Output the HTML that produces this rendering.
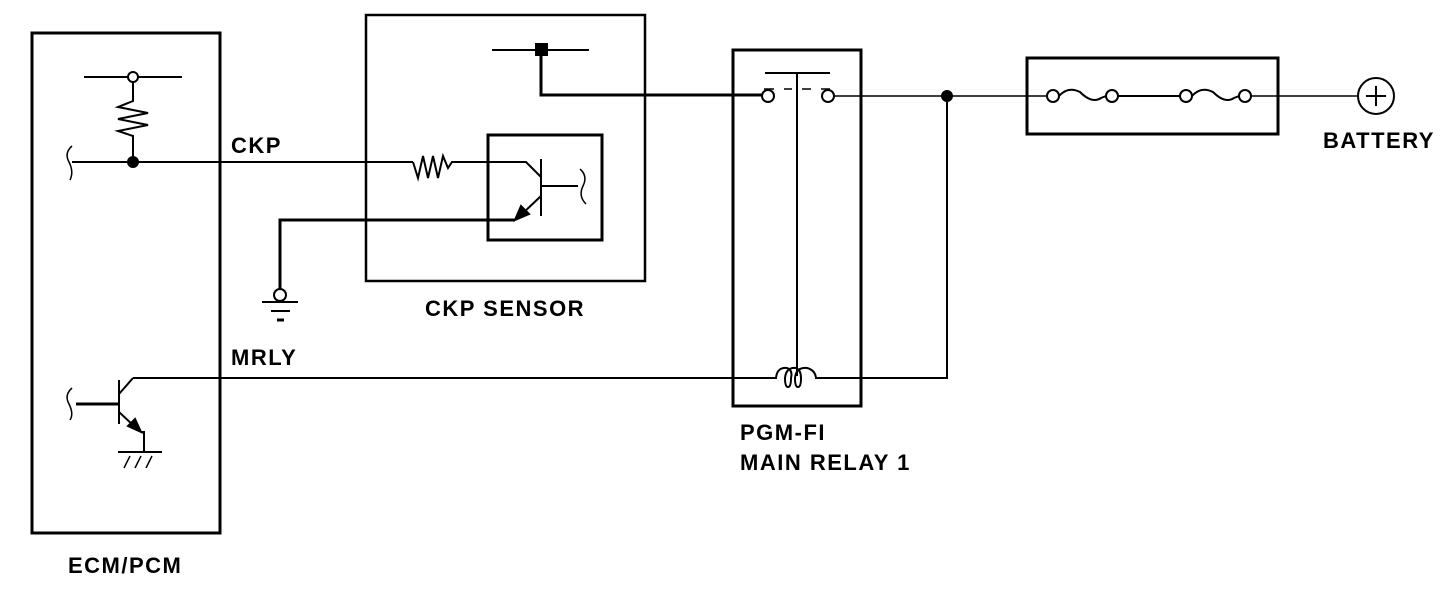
<!DOCTYPE html>
<html><head><style>
html,body{margin:0;padding:0;background:#fff;}
svg{display:block;}
text{font-family:"Liberation Sans",Arial,sans-serif;font-weight:bold;font-size:22px;letter-spacing:1.5px;fill:#000;}
</style></head><body>
<svg width="1456" height="596" viewBox="0 0 1456 596" xmlns="http://www.w3.org/2000/svg">
<g fill="none" stroke="#000" stroke-width="2">
<rect x="32" y="33" width="188" height="500" stroke-width="3"/>
<line x1="84" y1="77" x2="182" y2="77"/>
<circle cx="133" cy="77" r="5" fill="#fff"/>
<path d="M133 82 V101 L118 107 L148 113 L118 119 L148 125 L118 131 L133 136 V162" stroke-width="2"/>
<path d="M72 146 Q64 153 69 162 Q74 172 70 180" stroke-width="1.5"/>
<line x1="72" y1="162" x2="413" y2="162"/>
<circle cx="133" cy="162" r="5" fill="#000"/>
<path d="M413 162 L418 178 L423 156 L428 178 L433 156 L438 178 L443 156 L448 168 L452 162 H526 L541 177"/>
<rect x="366" y="15" width="279" height="266" stroke-width="2.5"/>
<rect x="488" y="135" width="114" height="105" stroke-width="3"/>
<line x1="541" y1="159" x2="541" y2="216"/>
<line x1="541" y1="186" x2="578" y2="186"/>
<path d="M580 169 Q588 176 583 186 Q578 196 586 204" stroke-width="1.5"/>
<line x1="541" y1="196" x2="522" y2="214"/>
<polygon points="515,220 521,206 529,214" fill="#000"/>
<path d="M515 220 H280 V289" stroke-width="3"/>
<circle cx="280" cy="295" r="6" fill="#fff"/>
<line x1="262" y1="302" x2="298" y2="302"/>
<line x1="271" y1="311" x2="290" y2="311"/>
<line x1="277" y1="320" x2="284" y2="320" stroke-width="3"/>
<line x1="492" y1="50" x2="589" y2="50"/>
<rect x="535" y="43" width="13" height="13" fill="#000" stroke="none"/>
<path d="M541 56 V95 H762" stroke-width="3"/>
<rect x="733" y="50" width="128" height="356" stroke-width="3"/>
<circle cx="768" cy="96" r="6" fill="#fff"/>
<circle cx="828" cy="96" r="6" fill="#fff"/>
<line x1="765" y1="73" x2="830" y2="73"/>
<line x1="797" y1="73" x2="797" y2="376"/>
<line x1="764" y1="89" x2="774" y2="89" stroke-width="1.5"/>
<line x1="784" y1="89" x2="792" y2="89" stroke-width="1.5"/>
<line x1="802" y1="89" x2="811" y2="89" stroke-width="1.5"/>
<line x1="821" y1="89" x2="830" y2="89" stroke-width="1.5"/>
<line x1="834" y1="96" x2="1047" y2="96" stroke-width="1.5"/>
<circle cx="947" cy="96" r="5" fill="#000"/>
<path d="M947 96 V378 H822" stroke-width="2"/>
<path d="M133 378 H776 Q777 367 787 368 Q793 370 791 378 Q791 387 788 387 Q785 387 785 378 Q786 367 796 368 Q801 370 801 378 Q801 387 798 387 Q795 387 795 378 Q796 367 807 368 Q815 370 816 378 H822"/>
<rect x="1027" y="58" width="251" height="76" stroke-width="3"/>
<circle cx="1053" cy="96" r="6" fill="#fff"/>
<circle cx="1112" cy="96" r="6" fill="#fff"/>
<circle cx="1186" cy="96" r="6" fill="#fff"/>
<circle cx="1245" cy="96" r="6" fill="#fff"/>
<path d="M1059 96 Q1068 86 1080 92 Q1092 104 1101 98 L1106 96"/>
<path d="M1192 96 Q1201 86 1213 92 Q1225 104 1234 98 L1239 96"/>
<line x1="1118" y1="96" x2="1180" y2="96"/>
<line x1="1251" y1="96" x2="1358" y2="96" stroke-width="1.5"/>
<circle cx="1376" cy="96" r="18"/>
<line x1="1366" y1="96" x2="1386" y2="96"/>
<line x1="1376" y1="86" x2="1376" y2="106"/>
<line x1="119" y1="380" x2="119" y2="424"/>
<line x1="76" y1="404" x2="119" y2="404" stroke-width="3"/>
<path d="M72 388 Q64 395 69 404 Q74 414 70 420" stroke-width="1.5"/>
<line x1="119" y1="394" x2="133" y2="378"/>
<line x1="119" y1="412" x2="134" y2="426"/>
<polygon points="141,432 128,426 135,419" fill="#000"/>
<path d="M141 432 H144 V452"/>
<line x1="118" y1="452" x2="162" y2="452"/>
<line x1="124" y1="468" x2="130" y2="456" stroke-width="1.5"/>
<line x1="135" y1="468" x2="141" y2="456" stroke-width="1.5"/>
<line x1="146" y1="468" x2="152" y2="456" stroke-width="1.5"/>
</g>
<text x="231" y="153">CKP</text>
<text x="231" y="365">MRLY</text>
<text x="425" y="316">CKP SENSOR</text>
<text x="740" y="440">PGM-FI</text>
<text x="740" y="470">MAIN RELAY 1</text>
<text x="1323" y="148">BATTERY</text>
<text x="68" y="573">ECM/PCM</text>
</svg>
</body></html>
